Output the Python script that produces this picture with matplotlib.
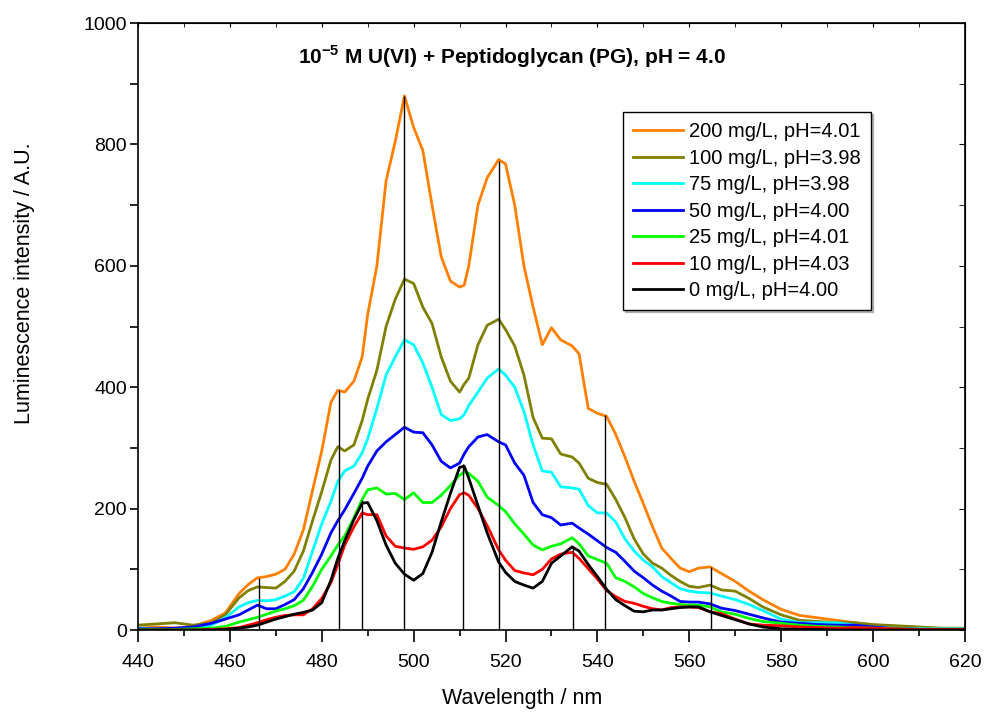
import matplotlib
matplotlib.use('Agg')
import matplotlib.pyplot as plt
from matplotlib.ticker import MultipleLocator

plt.rcParams['font.family'] = ['Liberation Sans', 'DejaVu Sans']
plt.rcParams['mathtext.fontset'] = 'custom'
plt.rcParams['mathtext.rm'] = 'Liberation Sans'
plt.rcParams['mathtext.bf'] = 'Liberation Sans:bold'

# Wellenlaengen-Raster (nm)
wl = [440, 444, 448, 452, 456, 459, 462, 464, 466, 468, 470, 472, 474, 476, 478, 480,
      482, 483.5, 485, 487, 488.8, 490, 492, 494, 496, 498, 500, 502, 504, 506, 508, 510,
      511, 512, 514, 516, 518.5, 520, 522, 524, 526, 528, 530, 532, 534.5, 536, 538, 540,
      542, 544, 546, 548, 550, 552, 554, 556, 558, 560, 562, 564.5, 567, 570, 573, 576,
      580, 584, 588, 592, 596, 600, 605, 610, 615, 620]

pg200 = [3, 5, 3, 6, 16, 28, 60, 75, 86, 88, 92, 100, 125, 165, 230, 295,
         375, 395, 392, 410, 450, 520, 600, 740, 805, 880, 828, 790, 700, 615, 575, 565,
         568, 600, 700, 745, 775, 768, 700, 600, 532, 470, 498, 478, 468, 455, 365, 357,
         352, 322, 285, 245, 208, 170, 135, 118, 102, 96, 102, 104, 93, 80, 64, 50,
         34, 24, 20, 16, 12, 8, 6, 4, 2, 1]
pg100 = [8, 10, 12, 8, 12, 25, 53, 65, 71, 70, 69, 80, 97, 130, 180, 228,
         280, 302, 295, 305, 345, 380, 428, 500, 545, 578, 571, 532, 505, 450, 410, 392,
         405, 415, 470, 502, 512, 495, 468, 420, 350, 316, 315, 290, 285, 275, 250, 243,
         240, 215, 185, 150, 125, 110, 102, 90, 80, 72, 70, 74, 66, 64, 52, 38,
         25, 16, 14, 12, 12, 9, 7, 5, 3, 3]
pg75 = [3, 2, 2, 3, 8, 20, 38, 45, 49, 48, 50, 56, 63, 85, 130, 175,
        212, 245, 262, 270, 292, 315, 365, 420, 450, 478, 470, 440, 400, 355, 345, 348,
        355, 370, 392, 415, 430, 420, 400, 360, 305, 262, 260, 236, 234, 232, 205, 193,
        193, 178, 150, 130, 115, 104, 88, 78, 68, 64, 62, 61, 56, 50, 42, 32,
        18, 12, 12, 12, 8, 4, 3, 2, 2, 2]
pg50 = [2, 2, 3, 5, 11, 18, 25, 33, 41, 35, 35, 42, 50, 68, 95, 125,
        160, 180, 198, 225, 250, 270, 295, 310, 322, 334, 326, 325, 305, 278, 267, 275,
        290, 302, 318, 322, 310, 305, 275, 255, 210, 190, 185, 173, 176, 168, 158, 147,
        136, 128, 113, 97, 86, 74, 64, 56, 47, 46, 46, 43, 36, 32, 26, 20,
        13, 11, 9, 8, 8, 5, 2, 1, 1, 1]
pg25 = [1, 1, 1, 2, 3, 6, 13, 17, 21, 26, 31, 35, 40, 49, 72, 100,
        122, 140, 155, 185, 215, 231, 234, 224, 225, 215, 226, 210, 210, 222, 238, 255,
        260, 258, 245, 219, 205, 195, 175, 158, 140, 132, 138, 142, 152, 142, 122, 116,
        110, 86, 80, 71, 60, 53, 47, 44, 42, 41, 41, 38, 30, 26, 19, 14,
        11, 8, 6, 5, 4, 3, 2, 1, 1, 1]
pg10 = [0, 0, 0, 0, 1, 2, 4, 8, 12, 17, 21, 24, 25, 25, 35, 52,
        78, 108, 140, 170, 193, 190, 190, 155, 138, 135, 133, 137, 148, 170, 200, 223,
        226, 222, 200, 172, 132, 115, 98, 94, 91, 100, 117, 125, 128, 118, 101, 84,
        65, 55, 47, 44, 39, 35, 33, 37, 38, 38, 37, 30, 27, 18, 10, 8,
        7, 5, 4, 3, 4, 3, 2, 1, 1, 1]
pg0 = [0, 0, 0, 0, 0, 1, 3, 5, 8, 13, 18, 22, 26, 29, 33, 45,
       82, 118, 147, 182, 209, 210, 180, 140, 110, 92, 82, 93, 128, 178, 225, 268,
       270, 250, 205, 160, 112, 95, 80, 74, 69, 80, 110, 122, 137, 130, 108, 88,
       67, 50, 40, 31, 30, 33, 33, 35, 37, 38, 38, 30, 24, 17, 10, 5,
       2, 1, 1, 0, 0, 0, 0, 0, 0, 0]

labels = ['200 mg/L, pH=4.01', '100 mg/L, pH=3.98', '75 mg/L, pH=3.98', '50 mg/L, pH=4.00',
          '25 mg/L, pH=4.01', '10 mg/L, pH=4.03', '0 mg/L, pH=4.00']
farben = ['#FF8000', '#808000', '#00FFFF', '#0000FF', '#00FF00', '#FF0000', '#000000']

# Markierungslinien (Peaklagen)
peak_wl = [466.3, 483.8, 488.8, 497.9, 510.7, 518.6, 534.7, 541.7, 564.7]
peak_top = [86, 395, 214, 880, 273, 773, 137, 354, 104]

fig = plt.figure(figsize=(9.84, 7.13), dpi=100)
ax = fig.add_axes([0.1402, 0.1164, 0.8405, 0.8513])

for y, c, lab in zip([pg200, pg100, pg75, pg50, pg25, pg10, pg0], farben, labels):
    ax.plot(wl, y, color=c, lw=2, label=lab)

ax.vlines(peak_wl, 0, peak_top, color='black', lw=1)

ax.set_xlim(440, 620)
ax.set_ylim(0, 1000)
ax.xaxis.set_major_locator(MultipleLocator(20))
ax.xaxis.set_minor_locator(MultipleLocator(10))
ax.yaxis.set_major_locator(MultipleLocator(200))
ax.yaxis.set_minor_locator(MultipleLocator(100))
ax.tick_params(axis='x', which='major', direction='out', length=8.5, width=1.2, labelsize=14, pad=9)
ax.tick_params(axis='x', which='minor', direction='out', length=4.3, width=1.2)
ax.tick_params(axis='y', which='major', direction='out', length=6, width=1.2, labelsize=14, pad=2)
ax.tick_params(axis='y', which='minor', direction='out', length=6, width=1.2)
for s in ax.spines.values():
    s.set_linewidth(1.2)

sx = ax.secondary_xaxis('top')
sx.xaxis.set_major_locator(MultipleLocator(20))
sx.xaxis.set_minor_locator(MultipleLocator(10))
sx.tick_params(which='both', direction='in', length=3, labeltop=False)
sy = ax.secondary_yaxis('right')
sy.yaxis.set_major_locator(MultipleLocator(200))
sy.yaxis.set_minor_locator(MultipleLocator(100))
sy.tick_params(which='both', direction='in', length=4, labelright=False)

ax.set_xlabel('Wavelength / nm', fontsize=15.5)
ax.xaxis.set_label_coords(0.464, -0.095)
ax.set_ylabel('Luminescence intensity / A.U.', fontsize=15.5)
ax.yaxis.set_label_coords(-0.1245, 0.572)

ax.text(521.4, 944, r'10$^{\mathbf{-5}}$ M U(VI) + Peptidoglycan (PG), pH = 4.0',
        ha='center', va='center', fontsize=15, fontweight='bold')

leg = ax.legend(loc='upper left', bbox_to_anchor=(0.5865, 0.853), borderaxespad=0,
                fontsize=14.5, frameon=True, fancybox=False,
                shadow={'color': '0.5', 'ox': 1.5, 'oy': -1.5},
                edgecolor='black', handlelength=2.5, handletextpad=0.3,
                labelspacing=0.37, borderpad=0.5)
leg.get_frame().set_linewidth(1)

fig.savefig('out.png', dpi=100)
